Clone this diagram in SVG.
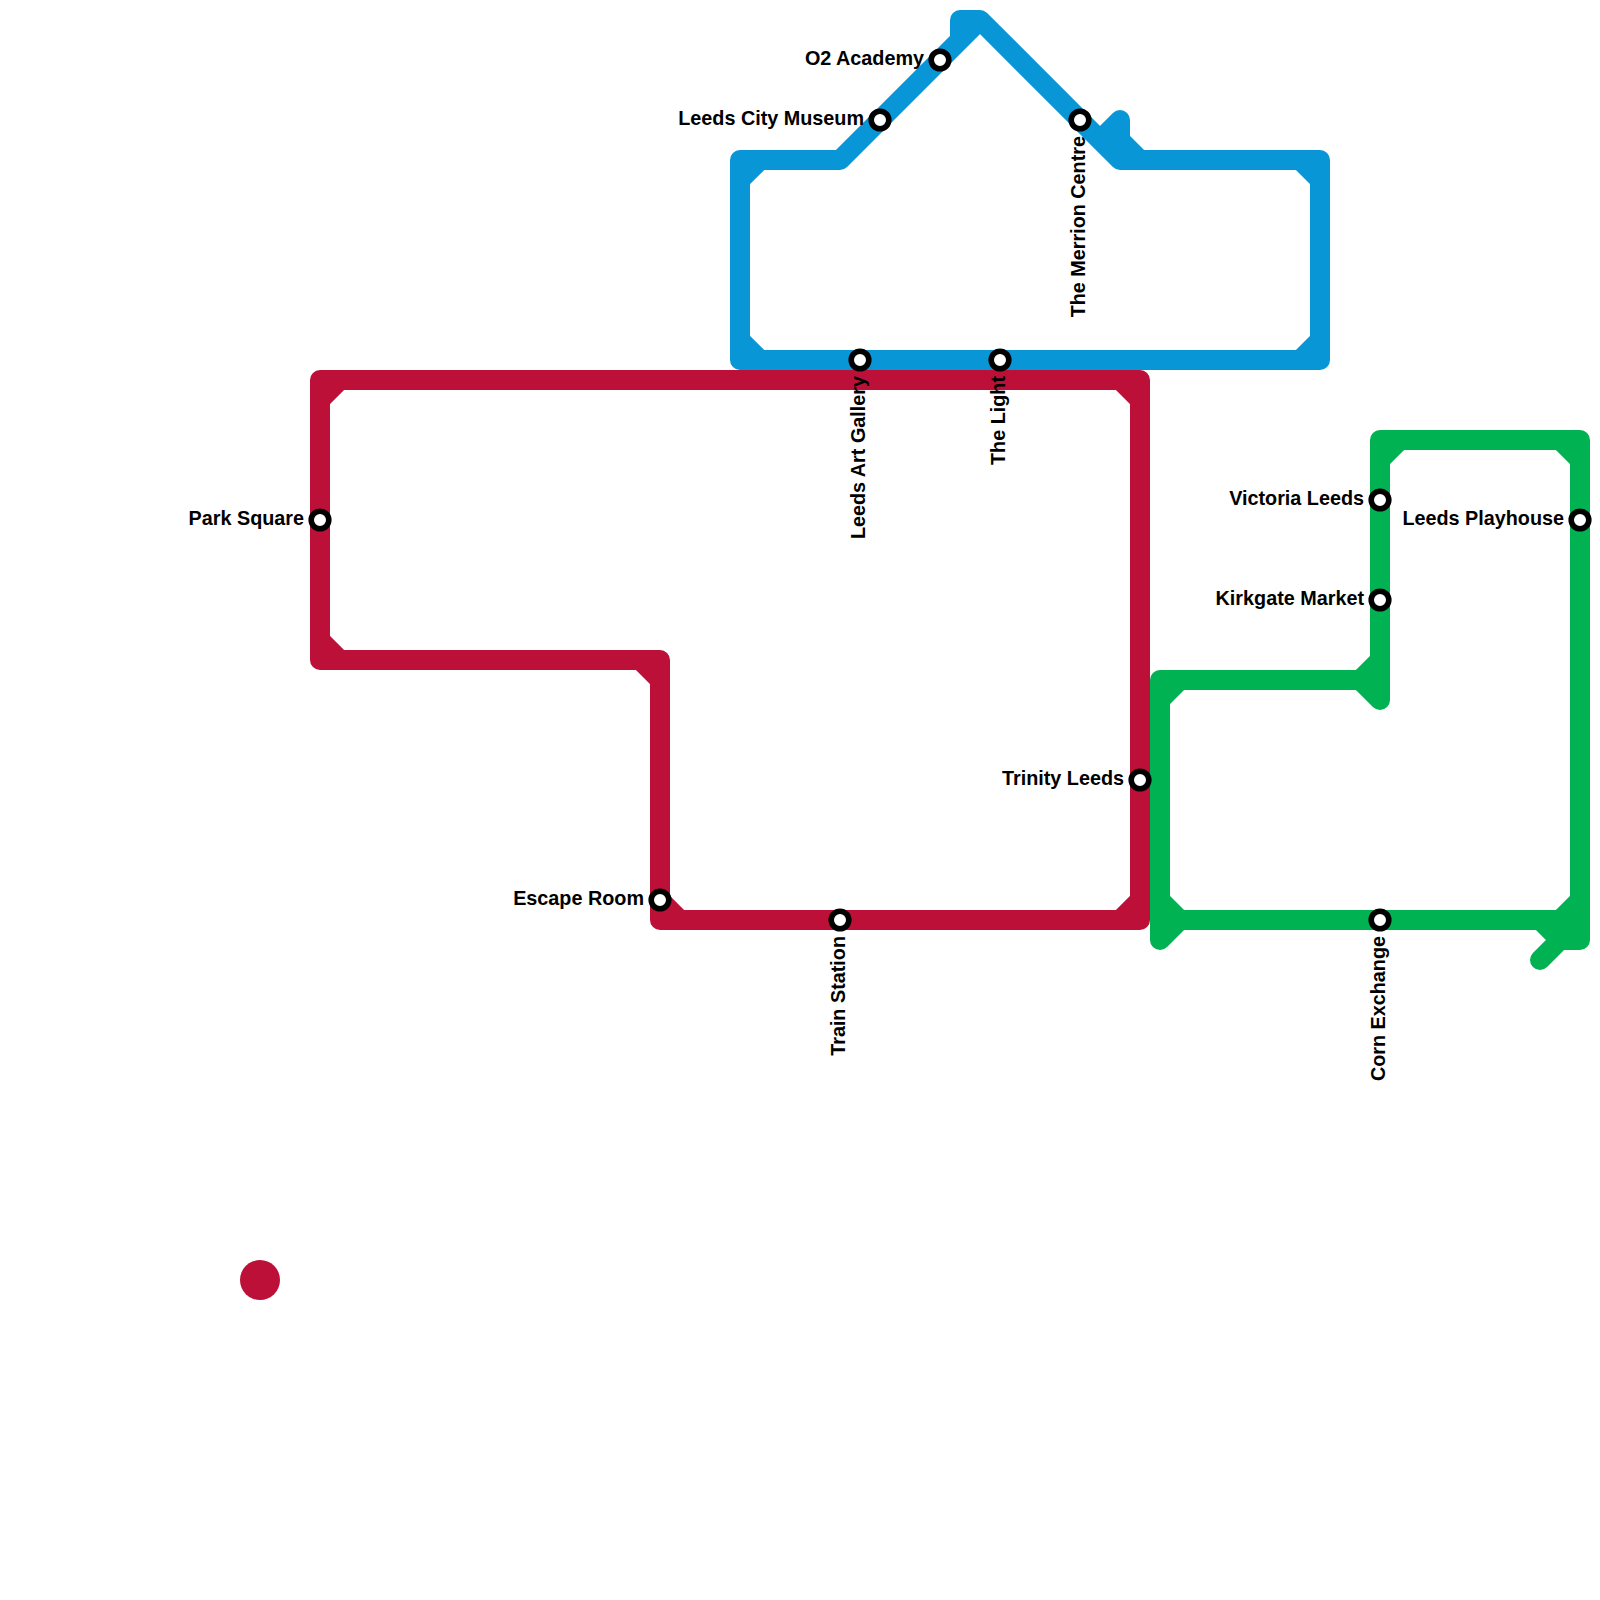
<svg xmlns="http://www.w3.org/2000/svg" width="1600" height="1600" viewBox="0 0 1600 1600">
<style>
.l{fill:none;stroke-width:20;stroke-linecap:round;stroke-linejoin:round}
.s{fill:#fff;stroke:#000;stroke-width:5.6}
text{font-family:"Liberation Sans",Arial,sans-serif;font-weight:700;font-size:19.8px;fill:#000;text-anchor:end}
</style>
<rect width="1600" height="1600" fill="#fff"/>
<g id="connectors">
<path id="line-red" class="l" stroke="#bd1038" d="M320 380H1140V920H660V660H320ZM320 400L340 380M320 640L340 660M640 660L660 680M660 900L680 920M1120 920L1140 900M1120 380L1140 400"/>
<path id="line-blue" class="l" stroke="#0896d7" d="M740 360V160H840L980 20H960V40M980 20L1120 160H1320V360H740M740 180L760 160M740 340L760 360M1300 160L1320 180M1320 340L1300 360M1100 140L1120 120V140L1140 160"/>
<path id="line-green" class="l" stroke="#00b251" d="M1160 920V680H1360L1380 660V440H1580V940H1560L1540 960M1160 940V920H1580M1160 940L1180 920M1160 900L1180 920M1160 700L1180 680M1360 680L1380 700V660M1380 460L1400 440M1560 440L1580 460M1560 920L1580 900M1540 920L1560 940"/>
</g>
<circle id="marker-red" cx="260" cy="1280" r="20" fill="#bd1038"/>
<g id="st-o2"><circle class="s" cx="940" cy="60" r="8.8"/><text x="924" y="65">O2 Academy</text></g>
<g id="st-museum"><circle class="s" cx="880" cy="120" r="8.8"/><text x="864" y="125">Leeds City Museum</text></g>
<g id="st-merrion"><circle class="s" cx="1080" cy="120" r="8.8"/><text transform="translate(1085 136) rotate(-90)">The Merrion Centre</text></g>
<g id="st-gallery"><circle class="s" cx="860" cy="360" r="8.8"/><text transform="translate(865 376) rotate(-90)">Leeds Art Gallery</text></g>
<g id="st-light"><circle class="s" cx="1000" cy="360" r="8.8"/><text transform="translate(1005 376) rotate(-90)">The Light</text></g>
<g id="st-park"><circle class="s" cx="320" cy="520" r="8.8"/><text x="304" y="525">Park Square</text></g>
<g id="st-escape"><circle class="s" cx="660" cy="900" r="8.8"/><text x="644" y="905">Escape Room</text></g>
<g id="st-train"><circle class="s" cx="840" cy="920" r="8.8"/><text transform="translate(845 936) rotate(-90)">Train Station</text></g>
<g id="st-trinity"><circle class="s" cx="1140" cy="780" r="8.8"/><text x="1124" y="785">Trinity Leeds</text></g>
<g id="st-victoria"><circle class="s" cx="1380" cy="500" r="8.8"/><text x="1364" y="505">Victoria Leeds</text></g>
<g id="st-kirkgate"><circle class="s" cx="1380" cy="600" r="8.8"/><text x="1364" y="605">Kirkgate Market</text></g>
<g id="st-playhouse"><circle class="s" cx="1580" cy="520" r="8.8"/><text x="1564" y="525">Leeds Playhouse</text></g>
<g id="st-corn"><circle class="s" cx="1380" cy="920" r="8.8"/><text transform="translate(1385 936) rotate(-90)">Corn Exchange</text></g>
</svg>
